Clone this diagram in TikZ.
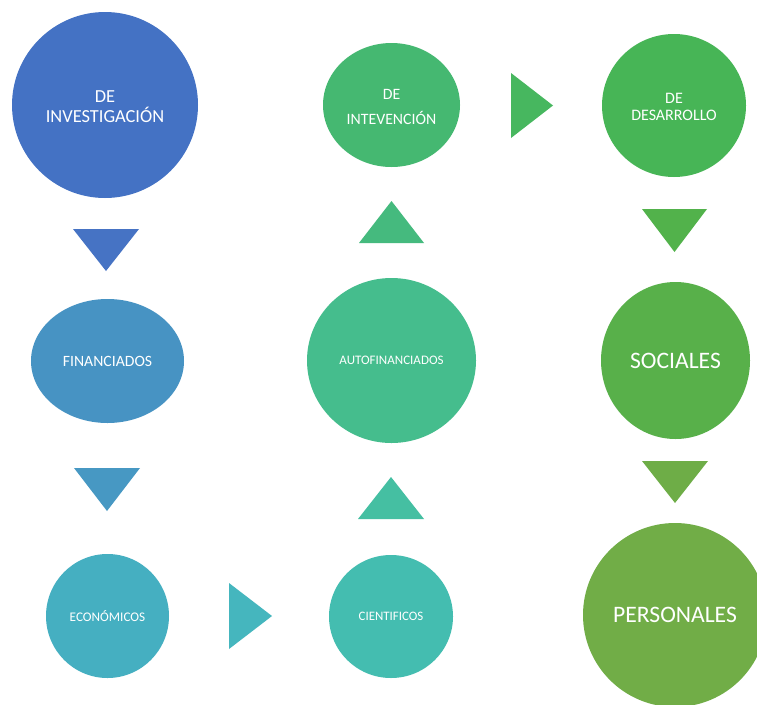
\documentclass[tikz,border=0pt]{standalone}
\usepackage{fontspec}
\setmainfont{Carlito}
\usetikzlibrary{shapes.geometric}
\definecolor{cA}{HTML}{4472C4}
\definecolor{tA}{HTML}{4673C4}
\definecolor{cB}{HTML}{4793C3}
\definecolor{tB}{HTML}{4798C3}
\definecolor{cC}{HTML}{45AFC1}
\definecolor{tC}{HTML}{45B6BE}
\definecolor{cD}{HTML}{44BDB0}
\definecolor{tD}{HTML}{45BFA2}
\definecolor{cE}{HTML}{45BD8D}
\definecolor{tE}{HTML}{45BA7E}
\definecolor{cF}{HTML}{45B871}
\definecolor{tF}{HTML}{47B75F}
\definecolor{cG}{HTML}{47B556}
\definecolor{tG}{HTML}{52B24B}
\definecolor{cH}{HTML}{58B04A}
\definecolor{tH}{HTML}{6EAD47}
\definecolor{cI}{HTML}{71AD47}
\tikzset{
  bubble/.style={ellipse, inner sep=0pt, text=white, align=center},
  fs/.style n args={2}{font=\fontsize{#1}{#2}\selectfont},
  lbl/.style={text=white, align=center, inner sep=0pt},
}
\begin{document}
\begin{tikzpicture}[x=1pt,y=-1pt]
\clip (0,0) rectangle (757,704);
\fill[white] (0,0) rectangle (757,704);
% circles
\node[bubble, fill=cA, minimum width=186pt, minimum height=186pt] (inv) at (105,105) {};
\node[lbl, fs={18.4}{20}] (invt) at (105,107) {DE\\INVESTIGACIÓN};
\node[bubble, fill=cB, minimum width=153pt, minimum height=124pt, fs={15.7}{18}] (fin) at (107.5,361) {FINANCIADOS};
\node[bubble, fill=cC, minimum width=123pt, minimum height=124pt, fs={13.2}{16}] (eco) at (107.5,616) {ECONÓMICOS};
\node[bubble, fill=cD, minimum width=124pt, minimum height=123pt, fs={12.9}{16}] (cie) at (391,616.5) {CIENTIFICOS};
\node[bubble, fill=cE, minimum width=169pt, minimum height=165pt, fs={13}{16}] (aut) at (391.5,360.5) {AUTOFINANCIADOS};
\node[bubble, fill=cF, minimum width=137pt, minimum height=124pt] (int) at (391.5,105) {};
\node[lbl, fs={15.8}{25}] (intt) at (391.5,107) {DE\\INTEVENCIÓN};
\node[bubble, fill=cG, minimum width=144pt, minimum height=143pt] (des) at (674,105.5) {};
\node[lbl, fs={16}{17}] (dest) at (674,107) {DE\\DESARROLLO};
\node[bubble, fill=cH, minimum width=149pt, minimum height=157pt, fs={23.6}{26}] (soc) at (675.5,360.5) {SOCIALES};
\node[bubble, fill=cI, minimum width=184pt, minimum height=184pt, fs={23.6}{26}] (per) at (675,615) {PERSONALES};
% triangles
\fill[tA] (73,229) -- (139,229) -- (106,271) -- cycle;
\fill[tB] (74,468) -- (140,468) -- (107,511) -- cycle;
\fill[tC] (229,583) -- (229,649) -- (272,616) -- cycle;
\fill[tD] (358,519) -- (424,519) -- (391,477) -- cycle;
\fill[tE] (359,243) -- (424,243) -- (391.5,201) -- cycle;
\fill[tF] (511,73) -- (511,138) -- (553,105.5) -- cycle;
\fill[tG] (642,209) -- (707,209) -- (674.5,252) -- cycle;
\fill[tH] (642,461) -- (708,461) -- (675,503) -- cycle;
\end{tikzpicture}
\end{document}
